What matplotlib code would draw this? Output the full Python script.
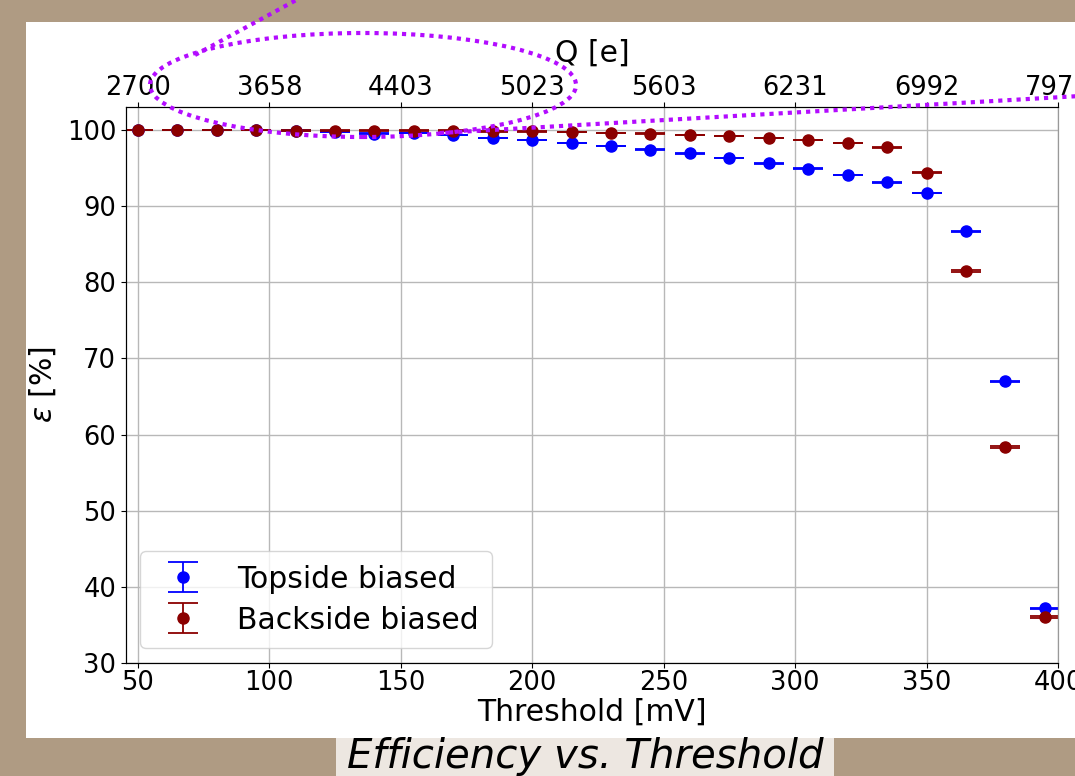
import numpy as np
import matplotlib
matplotlib.use('Agg')
import matplotlib.pyplot as plt
from matplotlib.patches import Rectangle, Ellipse
from matplotlib.lines import Line2D

# data
threshold = [50, 65, 80, 95, 110, 125, 140, 155, 170, 185, 200, 215,
             230, 245, 260, 275, 290, 305, 320, 335, 350, 365, 380, 395]
eff_top = [100.0, 100.0, 100.0, 100.0, 99.9, 99.7, 99.5, 99.6, 99.3, 98.9, 98.7, 98.3,
           97.9, 97.4, 96.9, 96.3, 95.6, 94.9, 94.1, 93.1, 91.7, 86.7, 67.0, 37.2]
eff_back = [100.0, 100.0, 100.0, 100.0, 99.9, 99.9, 99.9, 99.9, 99.9, 99.8, 99.8, 99.7,
            99.6, 99.5, 99.3, 99.2, 98.9, 98.7, 98.3, 97.7, 94.4, 81.5, 58.4, 36.0]
err_top = [0.03] * 21 + [0.05, 0.05, 0.05]
err_back = [0.03] * 21 + [0.15, 0.15, 0.15]
q_ticks = [50, 100, 150, 200, 250, 300, 350, 400]
q_labels = ['2700', '3658', '4403', '5023', '5603', '6231', '6992', '7975']

W, H = 1075, 776
fig = plt.figure(figsize=(W / 100, H / 100), dpi=100)
fig.patch.set_facecolor('#af9b83')

def fx(px):
    return px / W

def fy(py):
    return 1 - py / H

# white slide panel
fig.add_artist(Rectangle((fx(26), fy(738)), fx(1075) - fx(26), fy(22) - fy(738),
                         transform=fig.transFigure, facecolor='white', edgecolor='none', zorder=0))
# caption box
fig.add_artist(Rectangle((fx(336), fy(776)), fx(834) - fx(336), fy(738) - fy(776),
                         transform=fig.transFigure, facecolor='#ede7e1', edgecolor='none', zorder=0))
fig.text(fx(585), fy(757), 'Efficiency vs. Threshold', fontsize=29, style='italic',
         ha='center', va='center')

ax = fig.add_axes([fx(126), fy(663), fx(1058) - fx(126), fy(107) - fy(663)])
ax.set_facecolor('white')
ax.grid(True, color='#b8b8b8', lw=1)
ax.set_axisbelow(True)

ax.errorbar(threshold, eff_top, yerr=err_top, fmt='o', color='#0000ff', ms=8,
            capsize=11, elinewidth=1.3, capthick=1.3, label='Topside biased')
ax.errorbar(threshold, eff_back, yerr=err_back, fmt='o', color='#8b0000', ms=8,
            capsize=11, elinewidth=1.3, capthick=1.3, label='Backside biased')

ax.set_xlim(45.5, 400)
ax.set_ylim(30, 103)
ax.set_yticks(range(30, 101, 10))
ax.set_xticks(range(50, 401, 50))
ax.tick_params(labelsize=18.5)
ax.tick_params(axis='x', pad=1.5)
ax.set_xlabel('Threshold [mV]', fontsize=21.5, labelpad=1)
ax.set_ylabel(r'$\epsilon$ [%]', fontsize=21.5, labelpad=6)
ax.spines['right'].set_color('#999999')

ax2 = ax.twiny()
ax2.set_xlim(ax.get_xlim())
ax2.set_xticks(q_ticks)
ax2.set_xticklabels(q_labels)
ax2.tick_params(labelsize=18.5, pad=0.5)
ax2.set_xlabel('Q [e]', fontsize=21.5, labelpad=10)
ax2.spines['right'].set_color('#999999')

leg = ax.legend(loc='lower left', fontsize=21.5, borderpad=0.45, labelspacing=0.4,
                handlelength=2.0, handletextpad=0.8, borderaxespad=0,
                bbox_to_anchor=(14 / 932, 15 / 556))

# purple dotted callout
purple = '#b30cff'
fig.add_artist(Ellipse((fx(363), fy(85)), fx(426), 104 / H, transform=fig.transFigure,
                       fill=False, edgecolor=purple, lw=3, ls=(0, (1, 1.2)), zorder=10))
fig.add_artist(Line2D([fx(195), fx(300)], [fy(55), fy(-2)], transform=fig.transFigure,
                      color=purple, lw=3, ls=(0, (1, 1.2)), zorder=10))
fig.add_artist(Line2D([fx(440), fx(1080)], [fy(133), fy(96)], transform=fig.transFigure,
                      color=purple, lw=3, ls=(0, (1, 1.2)), zorder=10))

fig.savefig('out.png', dpi=100, facecolor=fig.get_facecolor())
